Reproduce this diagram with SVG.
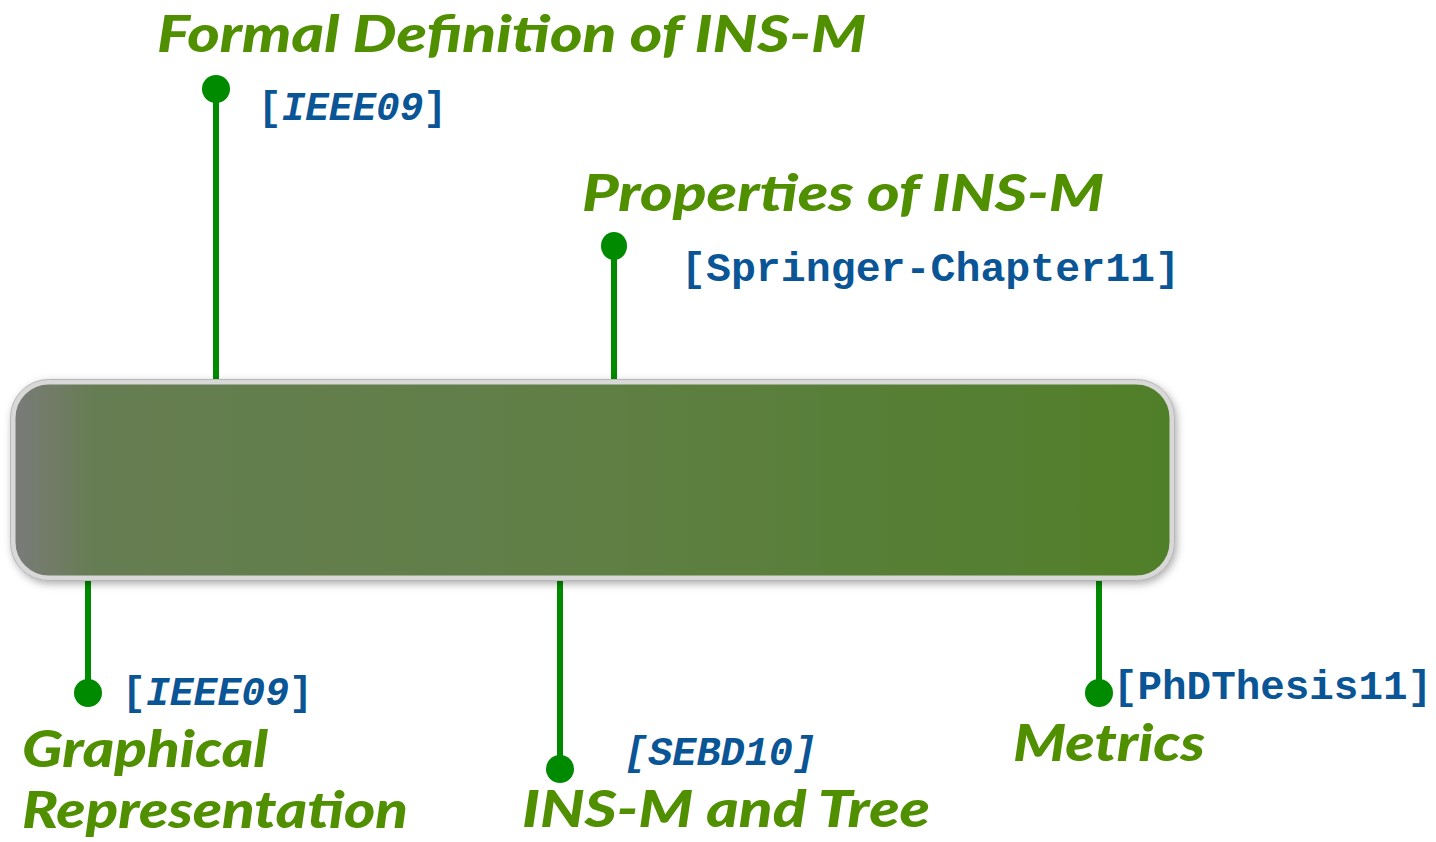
<svg xmlns="http://www.w3.org/2000/svg" width="1436" height="842" viewBox="0 0 1436 842">
  <defs>
    <linearGradient id="barFill" x1="0" y1="0" x2="1" y2="0">
      <stop offset="0" stop-color="#7a7a7a"/>
      <stop offset="0.07" stop-color="#667d52"/>
      <stop offset="0.5" stop-color="#5f7f45"/>
      <stop offset="1" stop-color="#507f28"/>
    </linearGradient>
    <filter id="shadow" x="-5%" y="-20%" width="110%" height="140%">
      <feDropShadow dx="2" dy="3" stdDeviation="4" flood-color="#000" flood-opacity="0.35"/>
    </filter>
    <style>
      .title { font-family: "Lato", "Open Sans", sans-serif; font-weight: 900; font-style: italic; fill: #4f8f00; font-size: 52px; }
      .cite { font-family: "Liberation Mono", "Courier New", monospace; font-weight: 700; fill: #0a5596; font-size: 40px; }
      .it { font-style: italic; }
      .stem { stroke: #008a00; stroke-width: 6; fill: none; }
      .dot { fill: #008a00; }
    </style>
  </defs>

  <!-- connectors: stems with round end dots -->
  <g id="connectors">
    <line class="stem" x1="216" y1="89" x2="216" y2="382"/>
    <circle class="dot" cx="216" cy="89" r="14"/>
    <line class="stem" x1="614" y1="246" x2="614" y2="382"/>
    <ellipse class="dot" cx="614" cy="246" rx="13" ry="14"/>
    <line class="stem" x1="88" y1="576" x2="88" y2="693"/>
    <circle class="dot" cx="88" cy="693" r="14"/>
    <line class="stem" x1="560" y1="576" x2="560" y2="769"/>
    <circle class="dot" cx="560" cy="769" r="14"/>
    <line class="stem" x1="1099" y1="576" x2="1099" y2="693"/>
    <circle class="dot" cx="1099" cy="693" r="14"/>
  </g>

  <!-- central bar -->
  <g id="bar">
    <rect x="13" y="382" width="1159" height="196" rx="36" ry="36" fill="url(#barFill)" stroke="#d8d8d8" stroke-width="5" filter="url(#shadow)"/>
    <rect x="10.5" y="379.5" width="1164" height="201" rx="38" ry="38" fill="none" stroke="#b8b8b8" stroke-width="1"/>
  </g>

  <g id="formal-definition">
    <text class="title" x="157" y="52" textLength="709" lengthAdjust="spacingAndGlyphs">Formal Definition of INS-M</text>
    <text class="cite" x="258" y="120" textLength="189" lengthAdjust="spacingAndGlyphs">[<tspan class="it">IEEE09</tspan>]</text>
  </g>

  <g id="properties">
    <text class="title" x="582" y="211" textLength="522" lengthAdjust="spacingAndGlyphs">Properties of INS-M</text>
    <text class="cite" x="681" y="281" textLength="499" lengthAdjust="spacingAndGlyphs">[Springer-Chapter11]</text>
  </g>

  <g id="graphical-representation">
    <text class="cite" x="122" y="705" textLength="191" lengthAdjust="spacingAndGlyphs">[<tspan class="it">IEEE09</tspan>]</text>
    <text class="title" x="22" y="767" textLength="246" lengthAdjust="spacingAndGlyphs">Graphical</text>
    <text class="title" x="22" y="828" textLength="386" lengthAdjust="spacingAndGlyphs">Representation</text>
  </g>

  <g id="ins-m-and-tree">
    <text class="cite it" x="624" y="765" textLength="193" lengthAdjust="spacingAndGlyphs">[SEBD10]</text>
    <text class="title" x="522" y="827" textLength="408" lengthAdjust="spacingAndGlyphs">INS-M and Tree</text>
  </g>

  <g id="metrics">
    <text class="cite" x="1113" y="699" textLength="319" lengthAdjust="spacingAndGlyphs">[PhDThesis11]</text>
    <text class="title" x="1013" y="761" textLength="192" lengthAdjust="spacingAndGlyphs">Metrics</text>
  </g>
</svg>
